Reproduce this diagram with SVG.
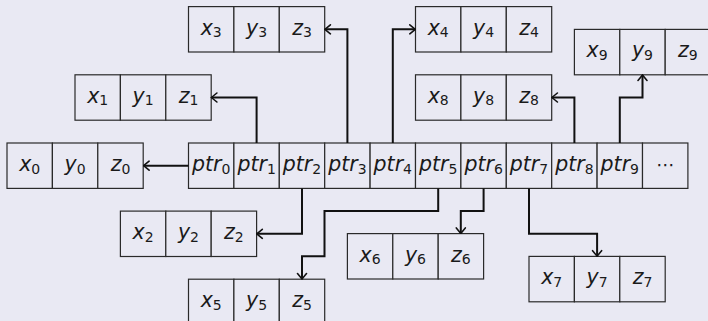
<svg xmlns="http://www.w3.org/2000/svg" width="708" height="321" viewBox="0 0 708 321">
<defs>
<style>
.bg{fill:#e9e9f3}
.cell{fill:#e9e9f3;stroke:#2a2a2a;stroke-width:1.2}
.t{font-family:"DejaVu Sans",sans-serif;font-style:italic;font-size:20.5px;fill:#1a1a1a;text-anchor:middle}
.s{font-style:normal;font-size:14px}
.d{font-family:"DejaVu Sans",sans-serif;font-size:18px;fill:#1a1a1a;text-anchor:middle}
.c{fill:none;stroke:#111;stroke-width:2;marker-end:url(#ah)}
</style>
<marker id="ah" viewBox="-7 -6 8 12" refX="0" refY="0" markerWidth="8" markerHeight="12" markerUnits="userSpaceOnUse" orient="auto">
<path d="M-5.5,-4.5 Q-1.5,-1.2 0,0 Q-1.5,1.2 -5.5,4.5" fill="none" stroke="#111" stroke-width="1.6" stroke-linecap="round"/>
</marker>
</defs>
<rect class="bg" x="0" y="0" width="708" height="321"/>

<g id="array">
<rect class="cell" x="188.5" y="143" width="45.4" height="45.4"/>
<rect class="cell" x="233.9" y="143" width="45.4" height="45.4"/>
<rect class="cell" x="279.3" y="143" width="45.4" height="45.4"/>
<rect class="cell" x="324.7" y="143" width="45.4" height="45.4"/>
<rect class="cell" x="370.1" y="143" width="45.4" height="45.4"/>
<rect class="cell" x="415.5" y="143" width="45.4" height="45.4"/>
<rect class="cell" x="460.9" y="143" width="45.4" height="45.4"/>
<rect class="cell" x="506.3" y="143" width="45.4" height="45.4"/>
<rect class="cell" x="551.7" y="143" width="45.4" height="45.4"/>
<rect class="cell" x="597.1" y="143" width="45.4" height="45.4"/>
<rect class="cell" x="642.5" y="143" width="45.4" height="45.4"/>
<text class="t" x="211.2" y="171">ptr<tspan class="s" dy="2.5">0</tspan></text>
<text class="t" x="256.6" y="171">ptr<tspan class="s" dy="2.5">1</tspan></text>
<text class="t" x="302" y="171">ptr<tspan class="s" dy="2.5">2</tspan></text>
<text class="t" x="347.4" y="171">ptr<tspan class="s" dy="2.5">3</tspan></text>
<text class="t" x="392.8" y="171">ptr<tspan class="s" dy="2.5">4</tspan></text>
<text class="t" x="438.2" y="171">ptr<tspan class="s" dy="2.5">5</tspan></text>
<text class="t" x="483.6" y="171">ptr<tspan class="s" dy="2.5">6</tspan></text>
<text class="t" x="529" y="171">ptr<tspan class="s" dy="2.5">7</tspan></text>
<text class="t" x="574.4" y="171">ptr<tspan class="s" dy="2.5">8</tspan></text>
<text class="t" x="619.8" y="171">ptr<tspan class="s" dy="2.5">9</tspan></text>
<text class="d" x="665.2" y="171">⋯</text>
</g>

<g id="node0" transform="translate(7,143)">
<rect class="cell" x="0" y="0" width="45.4" height="45.4"/><rect class="cell" x="45.4" y="0" width="45.4" height="45.4"/><rect class="cell" x="90.8" y="0" width="45.4" height="45.4"/>
<text class="t" x="22.7" y="28">x<tspan class="s" dy="2.5">0</tspan></text><text class="t" x="68.1" y="28">y<tspan class="s" dy="2.5">0</tspan></text><text class="t" x="113.5" y="28">z<tspan class="s" dy="2.5">0</tspan></text>
</g>
<g id="node1" transform="translate(75,74.8)">
<rect class="cell" x="0" y="0" width="45.4" height="45.4"/><rect class="cell" x="45.4" y="0" width="45.4" height="45.4"/><rect class="cell" x="90.8" y="0" width="45.4" height="45.4"/>
<text class="t" x="22.7" y="28">x<tspan class="s" dy="2.5">1</tspan></text><text class="t" x="68.1" y="28">y<tspan class="s" dy="2.5">1</tspan></text><text class="t" x="113.5" y="28">z<tspan class="s" dy="2.5">1</tspan></text>
</g>
<g id="node2" transform="translate(120.4,211.1)">
<rect class="cell" x="0" y="0" width="45.4" height="45.4"/><rect class="cell" x="45.4" y="0" width="45.4" height="45.4"/><rect class="cell" x="90.8" y="0" width="45.4" height="45.4"/>
<text class="t" x="22.7" y="28">x<tspan class="s" dy="2.5">2</tspan></text><text class="t" x="68.1" y="28">y<tspan class="s" dy="2.5">2</tspan></text><text class="t" x="113.5" y="28">z<tspan class="s" dy="2.5">2</tspan></text>
</g>
<g id="node3" transform="translate(188.5,6.6)">
<rect class="cell" x="0" y="0" width="45.4" height="45.4"/><rect class="cell" x="45.4" y="0" width="45.4" height="45.4"/><rect class="cell" x="90.8" y="0" width="45.4" height="45.4"/>
<text class="t" x="22.7" y="28">x<tspan class="s" dy="2.5">3</tspan></text><text class="t" x="68.1" y="28">y<tspan class="s" dy="2.5">3</tspan></text><text class="t" x="113.5" y="28">z<tspan class="s" dy="2.5">3</tspan></text>
</g>
<g id="node4" transform="translate(415.5,6.6)">
<rect class="cell" x="0" y="0" width="45.4" height="45.4"/><rect class="cell" x="45.4" y="0" width="45.4" height="45.4"/><rect class="cell" x="90.8" y="0" width="45.4" height="45.4"/>
<text class="t" x="22.7" y="28">x<tspan class="s" dy="2.5">4</tspan></text><text class="t" x="68.1" y="28">y<tspan class="s" dy="2.5">4</tspan></text><text class="t" x="113.5" y="28">z<tspan class="s" dy="2.5">4</tspan></text>
</g>
<g id="node5" transform="translate(188.5,279.2)">
<rect class="cell" x="0" y="0" width="45.4" height="45.4"/><rect class="cell" x="45.4" y="0" width="45.4" height="45.4"/><rect class="cell" x="90.8" y="0" width="45.4" height="45.4"/>
<text class="t" x="22.7" y="28">x<tspan class="s" dy="2.5">5</tspan></text><text class="t" x="68.1" y="28">y<tspan class="s" dy="2.5">5</tspan></text><text class="t" x="113.5" y="28">z<tspan class="s" dy="2.5">5</tspan></text>
</g>
<g id="node6" transform="translate(347.4,233.6)">
<rect class="cell" x="0" y="0" width="45.4" height="45.4"/><rect class="cell" x="45.4" y="0" width="45.4" height="45.4"/><rect class="cell" x="90.8" y="0" width="45.4" height="45.4"/>
<text class="t" x="22.7" y="28">x<tspan class="s" dy="2.5">6</tspan></text><text class="t" x="68.1" y="28">y<tspan class="s" dy="2.5">6</tspan></text><text class="t" x="113.5" y="28">z<tspan class="s" dy="2.5">6</tspan></text>
</g>
<g id="node7" transform="translate(529,256.4)">
<rect class="cell" x="0" y="0" width="45.4" height="45.4"/><rect class="cell" x="45.4" y="0" width="45.4" height="45.4"/><rect class="cell" x="90.8" y="0" width="45.4" height="45.4"/>
<text class="t" x="22.7" y="28">x<tspan class="s" dy="2.5">7</tspan></text><text class="t" x="68.1" y="28">y<tspan class="s" dy="2.5">7</tspan></text><text class="t" x="113.5" y="28">z<tspan class="s" dy="2.5">7</tspan></text>
</g>
<g id="node8" transform="translate(415.5,74.8)">
<rect class="cell" x="0" y="0" width="45.4" height="45.4"/><rect class="cell" x="45.4" y="0" width="45.4" height="45.4"/><rect class="cell" x="90.8" y="0" width="45.4" height="45.4"/>
<text class="t" x="22.7" y="28">x<tspan class="s" dy="2.5">8</tspan></text><text class="t" x="68.1" y="28">y<tspan class="s" dy="2.5">8</tspan></text><text class="t" x="113.5" y="28">z<tspan class="s" dy="2.5">8</tspan></text>
</g>
<g id="node9" transform="translate(574.4,29.4)">
<rect class="cell" x="0" y="0" width="45.4" height="45.4"/><rect class="cell" x="45.4" y="0" width="45.4" height="45.4"/><rect class="cell" x="90.8" y="0" width="45.4" height="45.4"/>
<text class="t" x="22.7" y="28">x<tspan class="s" dy="2.5">9</tspan></text><text class="t" x="68.1" y="28">y<tspan class="s" dy="2.5">9</tspan></text><text class="t" x="113.5" y="28">z<tspan class="s" dy="2.5">9</tspan></text>
</g>

<g id="connectors">
<path class="c" d="M188.5,165.7 H143.6"/>
<path class="c" d="M256.6,143 V97.5 H211.4"/>
<path class="c" d="M302,188.4 V233.8 H256.8"/>
<path class="c" d="M347.4,143 V29.3 H324.9"/>
<path class="c" d="M392.8,143 V29.3 H415.3"/>
<path class="c" d="M438.2,188.4 V211.1 H324.5 V256.3 H302 V279"/>
<path class="c" d="M483.6,188.4 V211.1 H460.8 V233.4"/>
<path class="c" d="M529,188.4 V233.8 H597.1 V256.2"/>
<path class="c" d="M574.4,143 V97.5 H551.9"/>
<path class="c" d="M619.8,143 V97.5 H642.5 V75"/>
</g>
</svg>
